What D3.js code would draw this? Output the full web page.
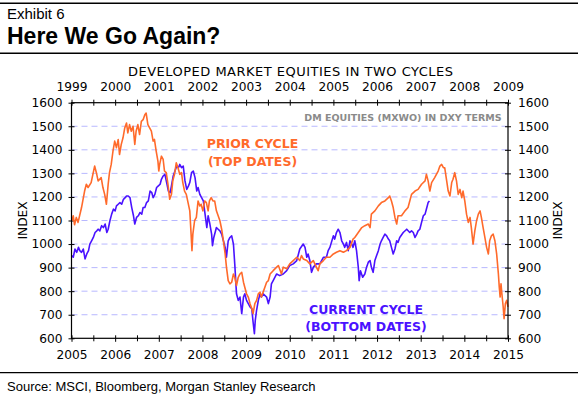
<!DOCTYPE html>
<html>
<head>
<meta charset="utf-8">
<script src="https://cdn.jsdelivr.net/npm/d3@7/dist/d3.min.js"></script>
<style>
  html, body { margin: 0; padding: 0; background: #fff; }
  svg { display: block; }
</style>
</head>
<body>
<svg id="chart" width="581" height="397"></svg>
<script>
// ---------- DATA ----------
const exhibitLabel = "Exhibit 6";
const titleText = "Here We Go Again?";
const chartTitle = "DEVELOPED MARKET EQUITIES IN TWO CYCLES";
const noteText = "DM EQUITIES (MXWO) IN DXY TERMS";
const sourceText = "Source: MSCI, Bloomberg, Morgan Stanley Research";
const yAxisTitle = "INDEX";

const bottomYears = [2005, 2006, 2007, 2008, 2009, 2010, 2011, 2012, 2013, 2014, 2015];
const topYears = [1999, 2000, 2001, 2002, 2003, 2004, 2005, 2006, 2007, 2008, 2009];
const yTicks = [600, 700, 800, 900, 1000, 1100, 1200, 1300, 1400, 1500, 1600];
const gridValues = [700, 800, 900, 1000, 1100, 1200, 1300, 1400, 1500];

const priorLabel = ["PRIOR CYCLE", "(TOP DATES)"];
const currentLabel = ["CURRENT CYCLE", "(BOTTOM DATES)"];

// Prior cycle (top dates, 1999-2009): [decimal year, index]
const priorDates = [1999.01,1999.04,1999.07,1999.11,1999.15,1999.23,1999.30,1999.34,1999.38,1999.45,1999.53,1999.57,1999.61,1999.68,1999.72,1999.76,1999.80,1999.84,1999.87,1999.91,1999.95,1999.99,
2000.03,2000.07,2000.10,2000.14,2000.18,2000.22,2000.26,2000.29,2000.33,2000.37,2000.41,2000.45,2000.48,2000.52,2000.56,2000.60,2000.64,2000.68,2000.71,2000.75,2000.79,2000.83,2000.87,2000.90,2000.94,2000.98,
2001.00,2001.02,2001.06,2001.10,2001.13,2001.17,2001.21,2001.25,2001.29,2001.32,2001.36,2001.40,2001.44,2001.48,2001.52,2001.55,2001.59,2001.63,2001.67,2001.71,2001.74,2001.76,2001.78,2001.82,2001.86,2001.90,2001.94,2001.97,
2002.01,2002.05,2002.09,2002.13,2002.16,2002.20,2002.24,2002.28,2002.32,2002.36,2002.40,2002.44,2002.48,2002.52,2002.55,2002.59,2002.63,2002.67,2002.71,2002.74,2002.78,2002.82,2002.86,2002.90,2002.94,2002.97,
2003.01,2003.05,2003.09,2003.13,2003.16,2003.20,2003.24,2003.28,2003.32,2003.35,2003.39,2003.43,2003.47,2003.51,2003.55,2003.62,2003.70,2003.74,2003.81,2003.85,2003.93,
2004.00,2004.08,2004.16,2004.23,2004.27,2004.31,2004.39,2004.46,2004.54,2004.61,2004.65,2004.69,2004.77,2004.84,2004.92,
2005.00,2005.07,2005.15,2005.23,2005.30,2005.38,2005.45,2005.49,2005.57,2005.65,2005.72,2005.80,2005.84,2005.87,2005.95,
2006.03,2006.10,2006.18,2006.26,2006.29,2006.33,2006.37,2006.41,2006.45,2006.48,2006.56,2006.64,2006.71,2006.75,2006.79,2006.87,2006.94,
2007.02,2007.10,2007.13,2007.17,2007.21,2007.25,2007.32,2007.40,2007.44,2007.48,2007.52,2007.55,2007.59,2007.63,2007.67,2007.71,2007.74,2007.78,2007.82,2007.86,2007.90,2007.94,2007.97,
2008.01,2008.05,2008.09,2008.13,2008.16,2008.20,2008.24,2008.28,2008.32,2008.36,2008.39,2008.43,2008.47,2008.51,2008.55,2008.58,2008.62,2008.66,2008.70,2008.74,2008.78,2008.80,2008.82,2008.84,2008.86,2008.89,2008.91,2008.94,2008.97,2009.00];
const priorValues = [1099,1120,1082,1113,1092,1155,1225,1254,1240,1261,1331,1303,1268,1282,1240,1211,1169,1254,1303,1338,1394,1437,
1409,1444,1380,1423,1451,1493,1514,1472,1507,1479,1500,1423,1479,1507,1465,1521,1528,1549,1556,1507,1493,1479,1437,1444,1394,1352,
1310,1338,1373,1359,1310,1303,1254,1190,1211,1268,1296,1345,1324,1296,1303,1261,1225,1211,1176,1141,1042,972,1042,1099,1113,1183,1162,1169,
1141,1183,1176,1141,1183,1197,1183,1183,1141,1120,1099,1063,1014,958,902,845,831,838,873,859,824,859,873,880,838,817,
789,775,747,726,705,747,761,789,796,775,796,817,838,845,873,887,902,909,873,902,895,
916,930,944,930,951,937,930,916,930,902,887,916,930,944,944,
958,965,972,965,972,986,1021,1028,1049,1070,1078,1085,1070,1127,1141,
1162,1176,1183,1197,1204,1183,1155,1113,1085,1120,1120,1141,1155,1183,1211,1225,1232,
1254,1268,1296,1268,1225,1261,1282,1310,1331,1338,1324,1324,1275,1225,1204,1261,1275,1303,1268,1211,1232,1197,1225,
1183,1127,1092,1113,1070,1000,1056,1099,1127,1141,1113,1070,1028,986,958,1014,1035,1042,1014,958,873,817,775,831,789,733,683,747,761,733];

// Current cycle (bottom dates, 2005-2013): [decimal year, index]
const currentDates = [2005.00,2005.04,2005.08,2005.12,2005.16,2005.19,2005.23,2005.27,2005.31,2005.35,2005.39,2005.42,2005.46,2005.50,2005.54,2005.58,2005.61,2005.65,2005.69,2005.73,2005.77,2005.81,2005.84,2005.88,2005.92,2005.96,
2006.00,2006.03,2006.07,2006.11,2006.15,2006.19,2006.23,2006.26,2006.30,2006.34,2006.38,2006.42,2006.45,2006.49,2006.53,2006.57,2006.61,2006.64,2006.68,2006.72,2006.76,2006.80,2006.84,2006.87,2006.91,2006.95,2006.99,
2007.03,2007.06,2007.10,2007.14,2007.18,2007.22,2007.26,2007.29,2007.33,2007.37,2007.41,2007.45,2007.48,2007.52,2007.56,2007.60,2007.64,2007.68,2007.71,2007.75,2007.79,2007.83,2007.87,2007.90,2007.94,2007.98,
2008.02,2008.06,2008.10,2008.13,2008.17,2008.21,2008.23,2008.26,2008.32,2008.36,2008.40,2008.44,2008.48,2008.52,2008.55,2008.59,2008.63,2008.67,2008.71,2008.74,2008.78,2008.82,2008.86,2008.90,2008.94,2008.97,
2009.01,2009.05,2009.09,2009.13,2009.16,2009.19,2009.21,2009.24,2009.28,2009.32,2009.35,2009.39,2009.47,2009.51,2009.55,2009.58,2009.62,2009.70,2009.77,2009.85,2009.93,
2010.00,2010.08,2010.16,2010.23,2010.31,2010.35,2010.39,2010.42,2010.46,2010.50,2010.54,2010.61,2010.69,2010.77,2010.84,2010.88,2010.92,
2011.00,2011.03,2011.07,2011.11,2011.15,2011.19,2011.23,2011.26,2011.30,2011.34,2011.38,2011.42,2011.45,2011.49,2011.53,2011.57,2011.59,2011.62,2011.67,2011.72,2011.76,2011.80,2011.84,2011.87,2011.91,2011.95,2011.99,
2012.03,2012.07,2012.10,2012.14,2012.18,2012.22,2012.26,2012.29,2012.33,2012.37,2012.41,2012.45,2012.48,2012.52,2012.60,2012.68,2012.75,2012.79,2012.83,2012.87,2012.91,2012.94,2012.98,
2013.02,2013.06,2013.10,2013.13,2013.17,2013.20];
const currentValues = [951,944,979,965,986,972,965,979,937,958,972,1000,1014,1028,1049,1056,1063,1056,1078,1070,1085,1049,1063,1099,1127,1148,
1141,1162,1169,1176,1169,1190,1197,1204,1204,1197,1155,1120,1085,1113,1120,1134,1127,1155,1155,1176,1183,1225,1218,1197,1211,1240,1247,
1254,1275,1289,1296,1261,1225,1218,1247,1289,1310,1331,1324,1338,1324,1331,1268,1232,1247,1261,1303,1310,1282,1225,1240,1211,1197,
1183,1127,1070,1120,1085,1042,993,1028,1070,1063,1056,1042,1014,986,944,1014,1028,1035,1000,916,789,761,775,705,775,789,
761,747,733,726,669,620,676,719,761,789,775,789,775,747,775,831,845,873,866,873,887,
909,916,930,979,1000,986,944,958,930,880,902,916,916,944,944,972,986,
1035,1021,1049,1063,1049,1014,1000,986,1007,972,1014,1000,986,1014,972,902,845,887,859,873,902,923,930,902,880,930,951,
972,1000,1014,1028,1042,1035,1021,1014,986,958,979,1014,1007,1028,1049,1063,1049,1056,1049,1028,1042,1056,1063,
1092,1120,1127,1148,1176,1183];

// ---------- DRAW ----------
const svg = d3.select("#chart");
const W = 581, H = 397;
const plot = { left: 71.5, right: 508, top: 102.7, bottom: 338.3 };

const ORANGE = "#ff6a2b";
const BLUE = "#4a12ff";
const FONT = "'DejaVu Sans', Verdana, sans-serif";

svg.append("rect").attr("width", W).attr("height", H).attr("fill", "#fff");

// header rules
[3.3, 53.3, 372.7].forEach((y, i) => {
  svg.append("line").attr("x1", 0).attr("x2", 578).attr("y1", y).attr("y2", y)
    .attr("stroke", "#000").attr("stroke-width", i < 2 ? 1.6 : 1.2);
});

svg.append("text").attr("x", 7).attr("y", 18.5)
  .attr("font-family", "Arial, 'Liberation Sans', sans-serif").attr("font-size", 15)
  .attr("fill", "#000").text(exhibitLabel);
svg.append("text").attr("x", 7).attr("y", 44)
  .attr("font-family", "Arial, 'Liberation Sans', sans-serif").attr("font-size", 23)
  .attr("font-weight", "bold").attr("fill", "#000").text(titleText);

svg.append("text").attr("x", 7).attr("y", 391)
  .attr("font-family", "Arial, 'Liberation Sans', sans-serif").attr("font-size", 13)
  .attr("fill", "#000").text(sourceText);

// scales
const xBottom = d3.scaleLinear().domain([2005, 2015]).range([plot.left, plot.right]);
const xTop = d3.scaleLinear().domain([1999, 2009]).range([plot.left, plot.right]);
const y = d3.scaleLinear().domain([600, 1600]).range([plot.bottom, plot.top]);

// gridlines
svg.append("g").selectAll("line").data(gridValues).join("line")
  .attr("x1", plot.left).attr("x2", plot.right)
  .attr("y1", d => y(d)).attr("y2", d => y(d))
  .attr("stroke", "#b8b8ff").attr("stroke-width", 1)
  .attr("stroke-dasharray", "6,4");

// chart title
svg.append("text").attr("x", 290.5).attr("y", 76)
  .attr("text-anchor", "middle").attr("font-family", FONT).attr("font-size", 13)
  .attr("textLength", 325).attr("lengthAdjust", "spacing")
  .attr("fill", "#000").text(chartTitle);

// axes
function styleAxis(g) {
  g.selectAll("path").remove();
  g.selectAll("text").attr("font-family", FONT).attr("font-size", 12.2).attr("fill", "#000");
  g.selectAll("line").attr("stroke", "#000");
}
const halfYearsBottom = d3.range(2005, 2015.01, 0.5);
const halfYearsTop = d3.range(1999, 2009.01, 0.5);

// bottom
const gb = svg.append("g").attr("transform", `translate(0,${plot.bottom})`);
gb.call(d3.axisBottom(xBottom).tickValues(halfYearsBottom)
  .tickFormat(d => (Number.isInteger(d) && bottomYears.includes(d)) ? d : "")
  .tickSizeInner(3).tickSizeOuter(0).tickPadding(9));
styleAxis(gb);
gb.selectAll(".tick line").attr("y1", -3).attr("y2", d => Number.isInteger(d) ? 3.5 : 3);

// top
const gt = svg.append("g").attr("transform", `translate(0,${plot.top})`);
gt.call(d3.axisTop(xTop).tickValues(halfYearsTop)
  .tickFormat(d => (Number.isInteger(d) && topYears.includes(d)) ? d : "")
  .tickSizeInner(3).tickSizeOuter(0).tickPadding(9));
styleAxis(gt);
gt.selectAll(".tick line").attr("y1", -3).attr("y2", 3);

// left
const gl = svg.append("g").attr("transform", `translate(${plot.left},0)`);
gl.call(d3.axisLeft(y).tickValues(yTicks).tickFormat(d3.format("d"))
  .tickSizeInner(3).tickSizeOuter(0).tickPadding(6));
styleAxis(gl);
gl.selectAll(".tick line").attr("x1", 3).attr("x2", -3);

// right
const gr = svg.append("g").attr("transform", `translate(${plot.right},0)`);
gr.call(d3.axisRight(y).tickValues(yTicks).tickFormat(d3.format("d"))
  .tickSizeInner(3).tickSizeOuter(0).tickPadding(7));
styleAxis(gr);
gr.selectAll(".tick line").attr("x1", -3).attr("x2", 3);

// axis titles
svg.append("text").attr("transform", `translate(27,${(plot.top + plot.bottom) / 2}) rotate(-90)`)
  .attr("text-anchor", "middle").attr("font-family", FONT).attr("font-size", 12.2)
  .attr("fill", "#000").text(yAxisTitle);
svg.append("text").attr("transform", `translate(562,${(plot.top + plot.bottom) / 2}) rotate(-90)`)
  .attr("text-anchor", "middle").attr("font-family", FONT).attr("font-size", 12.2)
  .attr("fill", "#000").text(yAxisTitle);

// lines
const priorData = priorDates.map((d, i) => [d, priorValues[i]]);
const currentData = currentDates.map((d, i) => [d, currentValues[i]]);

const linePrior = d3.line().x(d => xTop(d[0])).y(d => y(d[1]));
const lineCurrent = d3.line().x(d => xBottom(d[0])).y(d => y(d[1]));

svg.append("path").datum(currentData).attr("d", lineCurrent)
  .attr("fill", "none").attr("stroke", BLUE).attr("stroke-width", 1.6)
  .attr("stroke-linejoin", "round");
svg.append("path").datum(priorData).attr("d", linePrior)
  .attr("fill", "none").attr("stroke", ORANGE).attr("stroke-width", 1.6)
  .attr("stroke-linejoin", "round");

// plot frame
svg.append("rect").attr("x", plot.left).attr("y", plot.top)
  .attr("width", plot.right - plot.left).attr("height", plot.bottom - plot.top)
  .attr("fill", "none").attr("stroke", "#000").attr("stroke-width", 1.2);

// annotations
svg.append("text").attr("x", 501.5).attr("y", 121)
  .attr("text-anchor", "end").attr("font-family", FONT).attr("font-size", 9.5)
  .attr("font-weight", "bold").attr("fill", "#8a8a8a").text(noteText);

svg.append("g").selectAll("text").data(priorLabel).join("text")
  .attr("x", 252.5).attr("y", (d, i) => 148.3 + i * 17.4)
  .attr("text-anchor", "middle").attr("font-family", FONT).attr("font-size", 12.5)
  .attr("font-weight", "bold").attr("fill", ORANGE).text(d => d);

svg.append("g").selectAll("text").data(currentLabel).join("text")
  .attr("x", 366).attr("y", (d, i) => 314 + i * 16.7)
  .attr("text-anchor", "middle").attr("font-family", FONT).attr("font-size", 12.5)
  .attr("font-weight", "bold").attr("fill", BLUE).text(d => d);
</script>
</body>
</html>
